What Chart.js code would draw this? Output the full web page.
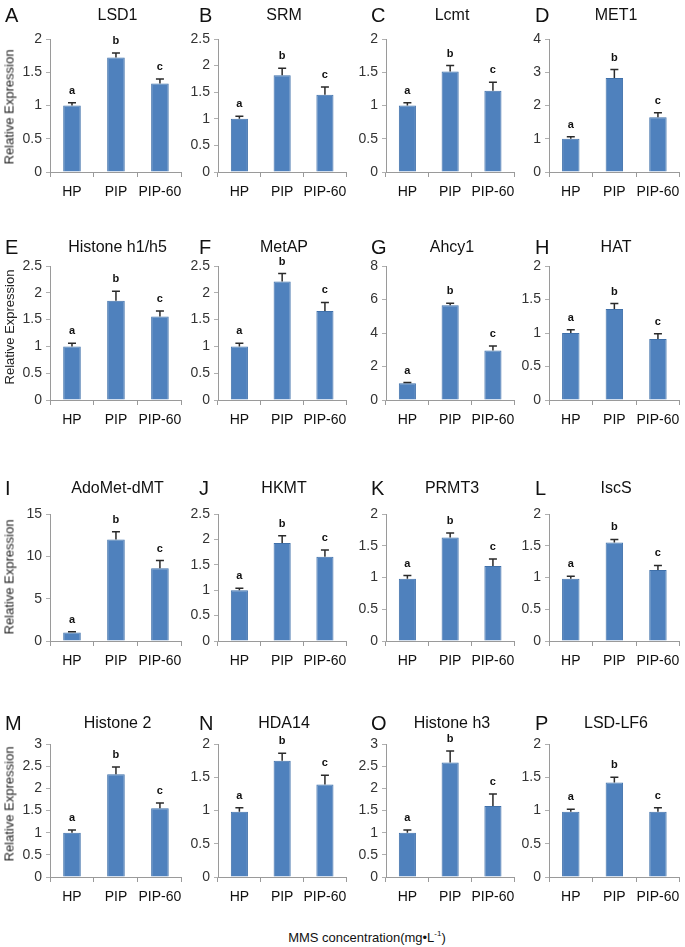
<!DOCTYPE html>
<html>
<head>
<meta charset="utf-8">
<script src="https://cdn.jsdelivr.net/npm/chart.js@4.4.0/dist/chart.umd.min.js"></script>
<style>
  body { margin: 0; background: #fff; }
  #page { position: relative; width: 685px; height: 947px; overflow: hidden; font-family: "Liberation Sans", Arial, sans-serif; color: #111; }
  canvas { position: absolute; }
  .letter { position: absolute; font-size: 20px; line-height: 20px; transform: translateY(-50%); }
  .title { position: absolute; font-size: 16px; line-height: 16px; white-space: nowrap; transform: translate(-50%, -50%); }
  .ylab { position: absolute; font-size: 13px; color: #222; white-space: nowrap; transform: translate(-50%, -50%) rotate(-90deg); }
  .footer { position: absolute; font-size: 13px; white-space: nowrap; transform: translate(-50%, -50%); }
  .footer sup { font-size: 8px; }
</style>
</head>
<body>
<div id="page"></div>
<script>
// chart data
const categories = ['HP', 'PIP', 'PIP-60'];
const sigLetters = ['a', 'b', 'c'];
const panelLetters = ['A', 'B', 'C', 'D', 'E', 'F', 'G', 'H', 'I', 'J', 'K', 'L', 'M', 'N', 'O', 'P'];
const genes = ['LSD1', 'SRM', 'Lcmt', 'MET1', 'Histone h1/h5', 'MetAP', 'Ahcy1', 'HAT',
  'AdoMet-dMT', 'HKMT', 'PRMT3', 'IscS', 'Histone 2', 'HDA14', 'Histone h3', 'LSD-LF6'];
const means = [
  [1.0, 1.72, 1.33], [1.0, 1.82, 1.45], [1.0, 1.51, 1.22], [1.0, 2.83, 1.65],
  [1.0, 1.85, 1.56], [1.0, 2.21, 1.66], [1.0, 5.65, 2.95], [1.0, 1.36, 0.91],
  [1.0, 12.0, 8.6], [1.0, 1.93, 1.66], [0.98, 1.63, 1.18], [0.98, 1.55, 1.12],
  [1.0, 2.32, 1.55], [0.98, 1.75, 1.39], [1.0, 2.58, 1.6], [0.98, 1.42, 0.98]
];
const errors = [
  [0.04, 0.07, 0.07], [0.05, 0.13, 0.15], [0.04, 0.09, 0.13], [0.06, 0.25, 0.13],
  [0.06, 0.18, 0.1], [0.06, 0.15, 0.16], [0.04, 0.12, 0.28], [0.05, 0.08, 0.08],
  [0.1, 0.9, 0.9], [0.04, 0.14, 0.13], [0.05, 0.07, 0.11], [0.04, 0.05, 0.07],
  [0.06, 0.16, 0.12], [0.06, 0.11, 0.14], [0.06, 0.26, 0.27], [0.04, 0.08, 0.06]
];
const yMax = [2, 2.5, 2, 4, 2.5, 2.5, 8, 2, 15, 2.5, 2, 2, 3, 2, 3, 2];
const yStep = [0.5, 0.5, 0.5, 1, 0.5, 0.5, 2, 0.5, 5, 0.5, 0.5, 0.5, 0.5, 0.5, 0.5, 0.5];

// layout of the 4x4 grid (plot area edges)
const colLeft = [50, 218, 386, 549];
const colRight = [185, 350, 518, 683];
const rowTop = [39, 266, 514, 744];
const rowBottom = [172, 400, 641, 877];
const letterX = [5, 199, 371, 535];
const titleY = [15, 247, 488, 723];
const ylabY = [107, 327, 577, 804];

const Y_W = 34, PAD_T = 26, X_H = 30;

const page = document.getElementById('page');

// error bars + significance letters
const errorBarPlugin = {
  id: 'errorBars',
  afterDatasetsDraw(chart, args, opts) {
    const ctx = chart.ctx;
    const yScale = chart.scales.y;
    const meta = chart.getDatasetMeta(0);
    const vals = chart.data.datasets[0].data;
    ctx.save();
    meta.data.forEach((bar, i) => {
      const top = yScale.getPixelForValue(vals[i] + opts.err[i]);
      const base = yScale.getPixelForValue(vals[i]);
      ctx.strokeStyle = '#2a2a2a';
      ctx.lineWidth = 1.5;
      ctx.beginPath();
      ctx.moveTo(bar.x, base);
      ctx.lineTo(bar.x, top);
      ctx.moveTo(bar.x - 4, top);
      ctx.lineTo(bar.x + 4, top);
      ctx.stroke();
      ctx.fillStyle = '#111';
      ctx.font = 'bold 11px "Liberation Sans", Arial, sans-serif';
      ctx.textAlign = 'center';
      ctx.textBaseline = 'alphabetic';
      ctx.fillText(sigLetters[i], bar.x, top - 9);
    });
    ctx.restore();
  }
};

function addDiv(cls, html, left, top) {
  const d = document.createElement('div');
  d.className = cls;
  d.innerHTML = html;
  d.style.left = left + 'px';
  d.style.top = top + 'px';
  page.appendChild(d);
  return d;
}

genes.forEach((gene, k) => {
  const r = Math.floor(k / 4), c = k % 4;
  const L = colLeft[c], R = colRight[c], T = rowTop[r], B = rowBottom[r];

  const cv = document.createElement('canvas');
  cv.width = (R - L) + Y_W + 4;
  cv.height = (B - T) + PAD_T + X_H;
  cv.style.left = (L - Y_W) + 'px';
  cv.style.top = (T - PAD_T) + 'px';
  page.appendChild(cv);

  new Chart(cv, {
    type: 'bar',
    data: {
      labels: categories,
      datasets: [{
        data: means[k],
        backgroundColor: '#4f81bd',
        borderColor: '#3f70aa',
        borderWidth: 1,
        categoryPercentage: 1,
        barPercentage: 0.4
      }]
    },
    options: {
      responsive: false,
      animation: false,
      layout: { padding: { top: PAD_T, left: 0, right: 4, bottom: 0 } },
      plugins: {
        legend: { display: false },
        tooltip: { enabled: false },
        errorBars: { err: errors[k] }
      },
      scales: {
        x: {
          afterFit(s) { s.height = X_H; },
          grid: { drawOnChartArea: false, tickLength: 5, color: '#9a9a9a', offset: true },
          border: { color: '#9a9a9a' },
          ticks: { color: '#111', padding: 7, autoSkip: false, maxRotation: 0, minRotation: 0,
            font: { family: '"Liberation Sans", Arial, sans-serif', size: 14 } }
        },
        y: {
          min: 0,
          max: yMax[k],
          afterFit(s) { s.width = Y_W; },
          grid: { drawOnChartArea: false, tickLength: 4, color: '#b0b0b0' },
          border: { color: '#9a9a9a' },
          ticks: { stepSize: yStep[k], color: '#333', padding: 4,
            callback: v => String(Number(v.toFixed(2))),
            font: { family: '"Liberation Sans Narrow", "Liberation Sans", Arial, sans-serif', size: 14 } }
        }
      }
    },
    plugins: [errorBarPlugin]
  });

  addDiv('letter', panelLetters[k], letterX[c], titleY[r]);
  addDiv('title', gene, (L + R) / 2, titleY[r]);
  if (c === 0) addDiv('ylab', 'Relative Expression', 9, ylabY[r]);
});

addDiv('footer', 'MMS concentration(mg&#8226;L<sup>-1</sup>)', 367, 937);
</script>
</body>
</html>
